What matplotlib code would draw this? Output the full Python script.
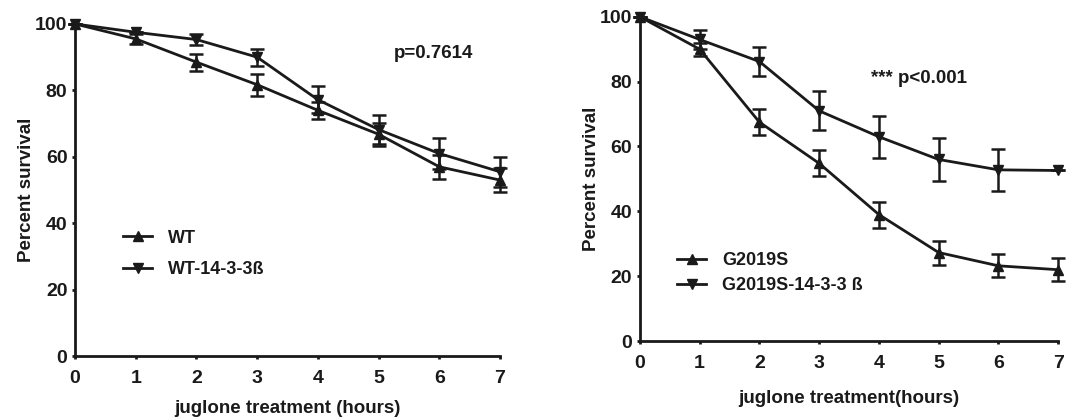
import numpy as np
import matplotlib.pyplot as plt
from matplotlib.lines import Line2D

plt.rcParams['font.family'] = ['Liberation Sans', 'DejaVu Sans']
plt.rcParams['font.weight'] = 'bold'

hours = [0, 1, 2, 3, 4, 5, 6, 7]

# left panel
wt = [100, 95.5, 88.5, 81.7, 74.0, 66.8, 57.0, 53.0]
wt_err = [0, 1.5, 2.6, 3.3, 2.6, 3.5, 3.6, 3.6]
wt_b = [100, 97.5, 95.3, 90.0, 77.2, 68.2, 61.0, 55.5]
wt_b_err = [0, 0, 1.6, 2.6, 4.0, 4.3, 4.7, 4.5]

# right panel
g2019s = [100, 90.0, 67.5, 54.8, 39.0, 27.3, 23.2, 22.0]
g2019s_err = [0, 2.0, 4.0, 4.0, 4.0, 3.7, 3.5, 3.5]
g2019s_b = [100, 93.0, 86.2, 71.0, 63.0, 56.0, 52.8, 52.6]
g2019s_b_err = [0, 3.0, 4.5, 6.0, 6.4, 6.5, 6.5, 0]

col = '#1a1a1a'
fs = 14


def draw(ax, y1, e1, y2, e2, labels, xlabel, xpad, ptext, ppos, legpos, legspace):
    ax.errorbar(hours, y1, yerr=e1, color=col, lw=2, marker='^', ms=7,
                capsize=5, capthick=1.8, elinewidth=1.8, clip_on=False, zorder=3)
    ax.errorbar(hours, y2, yerr=e2, color=col, lw=2, marker='v', ms=7,
                capsize=5, capthick=1.8, elinewidth=1.8, clip_on=False, zorder=3)
    ax.set_xlim(0, 7)
    ax.set_ylim(0, 100)
    ax.set_xticks(range(8))
    ax.set_yticks(range(0, 101, 20))
    for s in ['top', 'right']:
        ax.spines[s].set_visible(False)
    for s in ['left', 'bottom']:
        ax.spines[s].set_linewidth(2)
        ax.spines[s].set_color(col)
    ax.tick_params(axis='x', width=2, length=2.5, labelsize=fs, colors=col, pad=7.5)
    ax.tick_params(axis='y', width=2, length=2.5, labelsize=fs, colors=col, pad=3)
    ax.set_xlabel(xlabel, fontsize=fs - 0.5, fontweight='bold', color=col, labelpad=xpad)
    ax.set_ylabel('Percent survival', fontsize=fs - 0.5, fontweight='bold', color=col,
                  labelpad=0)
    ax.text(ppos[0], ppos[1], ptext, fontsize=fs - 0.5, fontweight='bold', color=col,
            va='center')
    handles = [Line2D([], [], color=col, lw=2, marker='^', ms=7),
               Line2D([], [], color=col, lw=2, marker='v', ms=7)]
    ax.legend(handles, labels, loc='upper left', bbox_to_anchor=legpos, frameon=False,
              fontsize=fs - 1, handlelength=1.6, handletextpad=0.9,
              labelspacing=legspace, labelcolor=col)


fig = plt.figure(figsize=(10.75, 4.2), dpi=100)
ax1 = fig.add_axes([0.0698, 0.152, 0.3953, 0.791])
ax2 = fig.add_axes([0.5953, 0.188, 0.389, 0.772])

draw(ax1, wt, wt_err, wt_b, wt_b_err, ['WT', 'WT-14-3-3ß'],
     'juglone treatment (hours)', 9, 'p=0.7614', (5.25, 91), (0.075, 0.43), 0.8)
draw(ax2, g2019s, g2019s_err, g2019s_b, g2019s_b_err, ['G2019S', 'G2019S-14-3-3 ß'],
     'juglone treatment(hours)', 13, '*** p<0.001', (3.87, 81), (0.05, 0.325), 0.45)

fig.savefig('out.png', dpi=100)
